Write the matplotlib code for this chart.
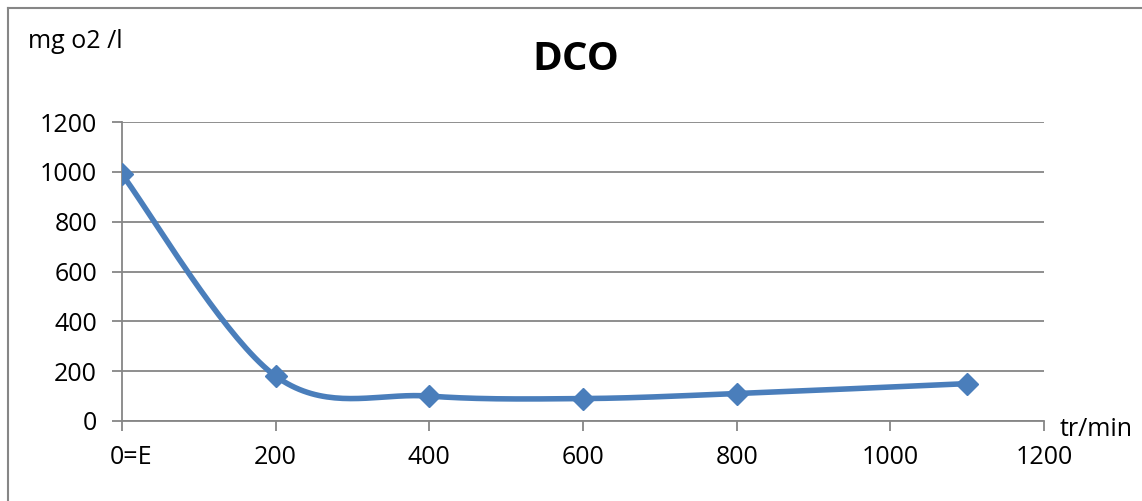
import numpy as np
import matplotlib.pyplot as plt
from matplotlib.lines import Line2D
import matplotlib.transforms as mtransforms

# data
speed = [0, 200, 400, 600, 800, 1100]
dco = [990, 180, 100, 90, 110, 150]
xtick_vals = [0, 200, 400, 600, 800, 1000, 1200]
xtick_labels = ['0=E', '200', '400', '600', '800', '1000', '1200']
ytick_vals = [0, 200, 400, 600, 800, 1000, 1200]

blue = '#4A7EBB'
grey = '#868686'
plt.rcParams['font.family'] = ['Open Sans', 'DejaVu Sans']


def smooth(x, y, sx, sy, n=40):
    # excel like bezier smoothing, done in screen-ish units
    px = np.array(x, float) * sx
    py = np.array(y, float) * sy
    px = np.concatenate([[px[0]], px, [px[-1]]])
    py = np.concatenate([[py[0]], py, [py[-1]]])
    xs, ys = [], []
    t = np.linspace(0, 1, n)
    for i in range(1, len(px) - 2):
        p0 = np.array([px[i], py[i]])
        p3 = np.array([px[i + 1], py[i + 1]])
        c1 = p0 + (p3 - np.array([px[i - 1], py[i - 1]])) / 6
        c2 = p3 - (np.array([px[i + 2], py[i + 2]]) - p0) / 6
        b = ((1 - t) ** 3)[:, None] * p0 + (3 * (1 - t) ** 2 * t)[:, None] * c1 \
            + (3 * (1 - t) * t ** 2)[:, None] * c2 + (t ** 3)[:, None] * p3
        xs.extend(b[:, 0])
        ys.extend(b[:, 1])
    return np.array(xs) / sx, np.array(ys) / sy


fig = plt.figure(figsize=(11.42, 5.01), dpi=100)
ax = fig.add_axes([122 / 1142, 1 - 421 / 501, 922 / 1142, 299 / 501])

cx, cy = smooth(speed, dco, 922 / 1200, 299 / 1200)
ax.plot(cx, cy, color=blue, lw=4, solid_capstyle='round', zorder=3)
ax.plot(speed, dco, ls='none', marker='D', ms=11, color=blue, zorder=4)

ax.set_xlim(0, 1200)
ax.set_ylim(0, 1200)
ax.set_xticks(xtick_vals)
ax.set_xticklabels(xtick_labels)
ax.set_yticks(ytick_vals)
ax.grid(axis='y', color=grey, lw=1.3)
ax.set_axisbelow(True)
for s in ['top', 'right']:
    ax.spines[s].set_visible(False)
for s in ['left', 'bottom']:
    ax.spines[s].set_color(grey)
    ax.spines[s].set_linewidth(1.3)
ax.tick_params(axis='both', length=7, width=1.3, color=grey, labelsize=18)
ax.tick_params(axis='y', pad=11)
ax.tick_params(axis='x', pad=10)

# first label sits a bit right of its tick
lab0 = ax.get_xticklabels()[0]
lab0.set_transform(lab0.get_transform() +
                   mtransforms.ScaledTranslation(9 / 100, 0, fig.dpi_scale_trans))

fig.text(576 / 1142, 1 - 60 / 501, 'DCO', ha='center', va='center',
         fontsize=29, fontweight='bold')
fig.text(28 / 1142, 1 - 42 / 501, 'mg o2 /l', ha='left', va='center', fontsize=18)
fig.text(1060 / 1142, 1 - 430 / 501, 'tr/min', ha='left', va='center', fontsize=18)

# outer frame (only top and left visible)
fig.add_artist(Line2D([8 / 1142, 8 / 1142], [0, 1 - 8 / 501], color=grey, lw=1.5,
                      transform=fig.transFigure))
fig.add_artist(Line2D([8 / 1142, 1], [1 - 8 / 501, 1 - 8 / 501], color=grey, lw=1.5,
                      transform=fig.transFigure))

fig.savefig('out.png', dpi=100)
